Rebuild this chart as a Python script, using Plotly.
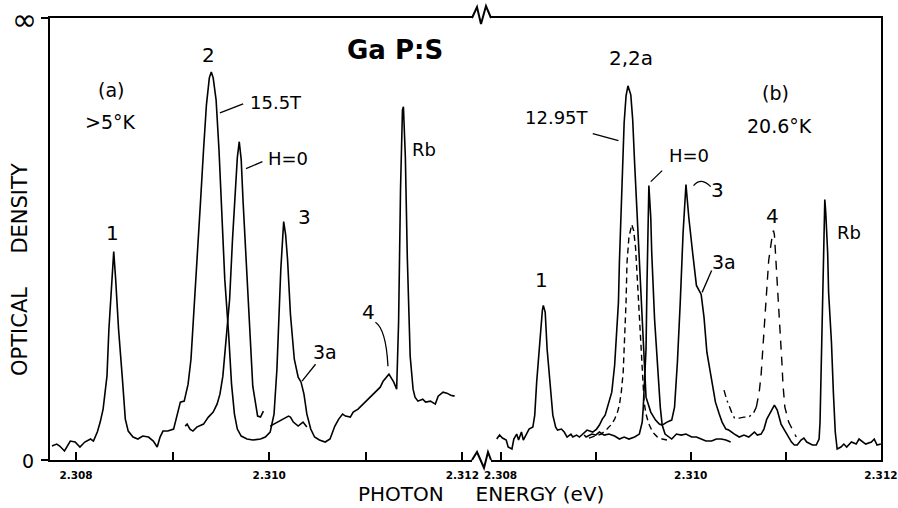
import plotly.graph_objects as go

# ---------------- data (photon energy in eV, optical density in arbitrary chart units) -------------
OD_TOP = 44.3  # the "infinity" end of the optical-density scale

# panel (a): 15.5 T trace
a_field_x = [2.30775, 2.30780, 2.30783, 2.30788, 2.30794, 2.30799, 2.30804, 2.30809, 2.30815, 2.30818,
             2.30822, 2.30825, 2.30828, 2.30832, 2.30834, 2.30837, 2.30839, 2.30841, 2.30844, 2.30848,
             2.30851, 2.30854, 2.30859, 2.30864, 2.30869, 2.30875, 2.30880, 2.30884, 2.30887, 2.30890,
             2.30895, 2.30901, 2.30905, 2.30908, 2.30912, 2.30916, 2.30919, 2.30922, 2.30925, 2.30929,
             2.30932, 2.30935, 2.30938, 2.30940, 2.30942, 2.30945, 2.30948, 2.30951, 2.30954, 2.30958,
             2.30961, 2.30964, 2.30967, 2.30971, 2.30977, 2.30983, 2.30991, 2.30996, 2.31001, 2.31005,
             2.31008, 2.31010, 2.31012, 2.31015, 2.31017, 2.31019, 2.31022, 2.31026, 2.31030, 2.31033,
             2.31036, 2.31039, 2.31043, 2.31047, 2.31052, 2.31058, 2.31063, 2.31068, 2.31072, 2.31076,
             2.31079, 2.31084, 2.31087, 2.31092, 2.31097, 2.31103, 2.31107, 2.31112, 2.31115, 2.31118,
             2.31122, 2.31124, 2.31129, 2.31132, 2.31134, 2.31136, 2.31138, 2.31139, 2.31141, 2.31143,
             2.31146, 2.31149, 2.31151, 2.31154, 2.31159, 2.31162, 2.31167, 2.31172, 2.31175, 2.31180,
             2.31184, 2.31188, 2.31192]
a_field_y = [1.4, 1.6, 1.4, 0.9, 1.9, 1.8, 1.3, 1.8, 2.1, 1.9,
             2.8, 3.8, 5.1, 8.4, 13.1, 18.1, 20.9, 18.1, 13.1, 8.1,
             4.1, 2.9, 2.3, 2.1, 2.4, 2.3, 1.9, 1.3, 2.3, 2.9,
             2.9, 3.1, 4.8, 5.8, 5.9, 7.6, 10.1, 14.6, 20.1, 26.1,
             31.1, 35.6, 38.3, 38.9, 38.3, 36.1, 31.1, 24.1, 18.1, 12.6,
             7.6, 4.6, 3.1, 2.4, 2.1, 2.0, 2.1, 2.3, 2.8, 4.6,
             9.1, 14.1, 19.1, 23.9, 22.6, 20.1, 14.6, 10.1, 8.3, 7.8,
             6.6, 4.6, 3.1, 2.3, 2.0, 1.8, 2.1, 3.4, 4.1, 4.6,
             4.4, 4.3, 4.8, 5.1, 5.6, 6.1, 6.6, 7.1, 7.3, 7.9,
             8.4, 8.6, 7.8, 7.1, 13.8, 27.1, 35.1, 35.4, 30.4, 20.4,
             10.4, 7.1, 6.3, 5.9, 6.1, 5.8, 5.9, 5.6, 6.4, 6.8,
             6.7, 6.5, 6.4]

# panel (a): zero-field (H=0) trace, two scan pieces
a_zero_x = [2.30913, 2.30915, 2.30918, 2.30921, 2.30925, 2.30932, 2.30937, 2.30942, 2.30946, 2.30949,
            2.30952, 2.30955, 2.30959, 2.30962, 2.30965, 2.30967, 2.30969, 2.30971, 2.30973, 2.30975,
            2.30978, 2.30981, 2.30983, 2.30986, 2.30988, 2.30991, 2.30994, None,
            2.31001, 2.31005, 2.31008, 2.31015, 2.31020, 2.31022, 2.31025, 2.31030, 2.31035, 2.31039]
a_zero_y = [3.4, 3.6, 3.1, 2.9, 3.3, 3.6, 4.3, 4.8, 5.6, 6.6,
            8.4, 11.4, 16.1, 22.1, 27.1, 30.3, 31.9, 30.1, 25.8, 22.1,
            15.8, 11.1, 7.4, 5.6, 4.4, 4.3, 4.9, None,
            3.4, 3.6, 3.8, 4.1, 4.4, 4.3, 3.8, 3.4, 3.8, 3.3]

# panel (b): 12.95 T trace
b_field_x = [2.30796, 2.30799, 2.30802, 2.30806, 2.30808, 2.30812, 2.30814, 2.30817, 2.30819, 2.30822,
             2.30824, 2.30827, 2.30830, 2.30834, 2.30836, 2.30838, 2.30841, 2.30844, 2.30845, 2.30847,
             2.30849, 2.30853, 2.30855, 2.30858, 2.30860, 2.30864, 2.30867, 2.30870, 2.30874, 2.30876,
             2.30880, 2.30883, 2.30886, 2.30891, 2.30897, 2.30901, 2.30904, 2.30907, 2.30910, 2.30912,
             2.30917, 2.30920, 2.30922, 2.30924, 2.30925, 2.30926, 2.30928, 2.30930, 2.30932, 2.30934,
             2.30937, 2.30939, 2.30941, 2.30943, 2.30946, 2.30949, 2.30951, 2.30953, 2.30958, 2.30963,
             2.30967, 2.30970, 2.30975, 2.30980, 2.30983, 2.30986, 2.30989, 2.30992, 2.30995, 2.30998,
             2.31002, 2.31006, 2.31011, 2.31014, 2.31017, 2.31023, 2.31026, 2.31030, 2.31033, 2.31037,
             2.31040, 2.31046, 2.31051, 2.31056, 2.31061, 2.31067, 2.31070, 2.31074, 2.31077, 2.31080,
             2.31085, 2.31088, 2.31091, 2.31095, 2.31098, 2.31101, 2.31106, 2.31109, 2.31112, 2.31116,
             2.31119, 2.31122, 2.31128, 2.31132, 2.31135, 2.31136, 2.31137, 2.31138, 2.31139, 2.31140,
             2.31141, 2.31142, 2.31144, 2.31145, 2.31148, 2.31150, 2.31152, 2.31154, 2.31158, 2.31161,
             2.31164, 2.31169, 2.31174, 2.31177, 2.31180, 2.31184, 2.31190, 2.31193, 2.31196, 2.31200]
b_field_y = [2.1, 2.5, 2.2, 2.0, 1.3, 1.1, 2.1, 2.6, 2.0, 2.8,
             2.0, 2.6, 3.1, 3.3, 4.5, 7.8, 11.8, 15.0, 15.5, 14.8,
             11.1, 6.8, 4.5, 3.3, 3.0, 3.1, 2.8, 2.3, 2.6, 2.3,
             2.5, 2.3, 2.6, 3.0, 2.8, 3.1, 3.5, 4.1, 4.5, 5.1,
             6.8, 9.5, 12.8, 15.8, 19.8, 22.5, 29.8, 33.8, 36.5, 37.5,
             36.6, 34.1, 29.8, 25.8, 19.8, 12.8, 8.8, 6.3, 4.8, 4.0,
             3.6, 3.5, 3.8, 4.0, 5.3, 9.8, 15.8, 22.8, 27.6, 24.3,
             20.8, 17.5, 16.6, 14.3, 10.8, 7.5, 5.8, 4.6, 3.8, 3.1,
             3.0, 2.6, 2.3, 2.5, 2.3, 2.8, 2.5, 2.6, 3.1, 4.1,
             5.0, 5.5, 5.0, 3.6, 3.1, 2.6, 1.8, 1.5, 1.5, 2.0,
             2.2, 1.8, 1.5, 1.5, 2.1, 3.8, 7.8, 12.8, 17.8, 22.3,
             26.1, 24.8, 20.8, 16.8, 11.8, 6.8, 2.8, 1.1, 1.3, 1.6,
             1.3, 1.8, 1.6, 2.1, 1.9, 1.6, 1.8, 2.1, 1.5, 1.6]

# panel (b): zero-field (H=0) trace
b_zero_x = [2.30888, 2.30890, 2.30896, 2.30900, 2.30904, 2.30909, 2.30914, 2.30920, 2.30925, 2.30930,
            2.30935, 2.30941, 2.30946, 2.30949, 2.30950, 2.30951, 2.30953, 2.30954, 2.30955, 2.30956,
            2.30958, 2.30959, 2.30962, 2.30965, 2.30968, 2.30970, 2.30973, 2.30980, 2.30985, 2.30990,
            2.30995, 2.31001, 2.31006, 2.31011, 2.31016, 2.31022, 2.31027, 2.31032, 2.31037, 2.31042]
b_zero_y = [2.5, 2.3, 2.6, 2.5, 2.8, 2.5, 2.6, 2.4, 2.1, 2.3,
            2.1, 2.3, 2.6, 3.8, 5.1, 6.8, 11.1, 17.5, 22.8, 27.5,
            24.3, 20.8, 14.1, 9.1, 5.3, 3.5, 2.6, 2.1, 2.6, 2.5,
            2.6, 2.3, 2.3, 2.1, 1.9, 1.9, 2.1, 2.1, 2.0, 1.8]

# panel (b): dashed trace around line 2,2a
b_dash_x = [2.30893, 2.30900, 2.30906, 2.30912, 2.30917, 2.30920, 2.30923, 2.30925, 2.30927, 2.30929,
            2.30930, 2.30932, 2.30933, 2.30935, 2.30938, 2.30940, 2.30942, 2.30944, 2.30946, 2.30948,
            2.30949, 2.30951, 2.30953, 2.30956, 2.30960, 2.30965, 2.30970, 2.30975]
b_dash_y = [2.2, 2.4, 2.6, 3.1, 3.6, 4.1, 4.8, 5.5, 6.8, 8.8,
            10.8, 15.8, 19.8, 22.3, 23.6, 23.0, 21.3, 17.8, 13.8, 9.8,
            8.1, 5.8, 4.6, 3.6, 2.8, 2.3, 2.1, 2.0]

# panel (b): dash-dot lead-in and dashed line 4
b_dashdot_x = [2.31035, 2.31038, 2.31043, 2.31046, 2.31051, 2.31056, 2.31061, 2.31066, 2.31069]
b_dashdot_y = [7.0, 6.0, 4.8, 4.2, 4.2, 4.3, 4.3, 4.7, 5.3]
b_line4_x = [2.31069, 2.31072, 2.31074, 2.31076, 2.31078, 2.31080, 2.31082, 2.31085, 2.31087, 2.31088,
             2.31090, 2.31092, 2.31094, 2.31096, 2.31097, 2.31099, 2.31103, 2.31107, 2.31111]
b_line4_y = [5.3, 6.8, 8.5, 11.3, 15.1, 17.8, 20.0, 22.0, 23.0, 22.6,
             19.6, 15.8, 12.8, 9.6, 7.6, 5.3, 3.8, 3.0, 2.3]

x_tickvals = [2.308, 2.309, 2.310, 2.311, 2.312]
x_ticktext = ["2.308", "", "2.310", "", "2.312"]

# ---------------- figure -------------
FONT = "DejaVu Sans"
INK = "black"
LW = 1.6

fig = go.Figure()

def add_line(x, y, xa, ya, dash="solid", width=LW):
    fig.add_trace(go.Scatter(x=x, y=y, mode="lines", xaxis=xa, yaxis=ya,
                             line=dict(color=INK, width=width, dash=dash),
                             connectgaps=False, showlegend=False, hoverinfo="skip"))

add_line(a_field_x, a_field_y, "x", "y")
add_line(a_zero_x, a_zero_y, "x", "y")
add_line(b_field_x, b_field_y, "x2", "y2")
add_line(b_zero_x, b_zero_y, "x2", "y2")
add_line(b_dash_x, b_dash_y, "x2", "y2", dash="6px,4px", width=1.4)
add_line(b_dashdot_x, b_dashdot_y, "x2", "y2", dash="7px,4px,2px,4px", width=1.4)
add_line(b_line4_x, b_line4_y, "x2", "y2", dash="9px,7px", width=1.4)

xaxis_common = dict(showline=True, linewidth=2, linecolor=INK, mirror=True,
                    ticks="inside", ticklen=8, tickwidth=1.5, tickcolor=INK,
                    tickvals=x_tickvals, ticktext=x_ticktext,
                    tickfont=dict(family=FONT, size=10.5, color=INK, weight="bold"),
                    showgrid=False, zeroline=False, ticklabelstandoff=4, automargin=False,
                    ticklabeloverflow="allow")

fig.update_layout(
    width=898, height=508, autosize=False,
    margin=dict(l=50, r=17, t=18, b=48, pad=0, autoexpand=False),
    paper_bgcolor="white", plot_bgcolor="white",
    xaxis=dict(domain=[0, 0.5078], range=[2.30773, 2.31210], anchor="y", **xaxis_common),
    xaxis2=dict(domain=[0.5307, 1.0], range=[2.30790, 2.312001], anchor="y2", **xaxis_common),
    yaxis=dict(domain=[0, 1], range=[0, OD_TOP], anchor="x", showline=True, linewidth=2,
               linecolor=INK, ticks="outside", ticklen=7, tickwidth=2, tickcolor=INK,
               tickvals=[0, OD_TOP], showticklabels=False, showgrid=False, zeroline=False,
               automargin=False),
    yaxis2=dict(domain=[0, 1], range=[0, OD_TOP], anchor="x2", side="right", matches="y",
                showline=True, linewidth=2, linecolor=INK, ticks="", showticklabels=False,
                showgrid=False, zeroline=False, automargin=False),
)

# axis break marks
fig.add_shape(type="path", xref="paper", yref="paper",
              path="M 0.50782,1 L 0.51384,1.02489 L 0.51865,0.98643 L 0.52467,1.02715 L 0.53069,1",
              line=dict(color=INK, width=2))
fig.add_shape(type="path", xref="paper", yref="paper",
              path="M 0.50782,0 L 0.51384,0.0181 L 0.52226,-0.0181 L 0.52708,0.0181 L 0.53069,0",
              line=dict(color=INK, width=2))

def label(text, x, y, xref, yref, size=19, bold=False, angle=0):
    fig.add_annotation(text=text, x=x, y=y, xref=xref, yref=yref, showarrow=False,
                       xanchor="center", yanchor="middle", textangle=angle,
                       font=dict(family=FONT, size=size, color=INK,
                                 weight="bold" if bold else "normal"))

# axis end labels and titles
label("\u221e", -0.0301, 0.9977, "paper", "paper", size=30)
label("0", -0.0265, -0.002, "paper", "paper", size=19)
label("OPTICAL\u00a0\u00a0\u00a0\u00a0\u00a0DENSITY", -0.0361, 0.43, "paper", "paper", size=21, angle=-90)
label("PHOTON\u00a0\u00a0\u00a0\u00a0\u00a0ENERGY (eV)", 0.5181, -0.0769, "paper", "paper", size=20)

# panel (a) labels
label("Ga P:S", 2.31130, 41.1, "x", "y", size=26, bold=True)
label("(a)", 2.30836, 37.1, "x", "y")
label(">5°K", 2.30836, 33.9, "x", "y")
label("1", 2.30838, 22.8, "x", "y", size=20)
label("2", 2.30937, 40.6, "x", "y", size=20)
label("15.5T", 2.31007, 35.8, "x", "y", size=18)
label("H=0", 2.31019, 30.2, "x", "y", size=18)
label("3", 2.31037, 24.4, "x", "y", size=20)
label("3a", 2.31058, 10.8, "x", "y")
label("4", 2.31103, 14.8, "x", "y", size=20)
label("Rb", 2.31160, 31.1, "x", "y", size=18)

# panel (b) labels
label("(b)", 2.31089, 36.8, "x2", "y2")
label("20.6°K", 2.31093, 33.5, "x2", "y2")
label("1", 2.30843, 18.0, "x2", "y2", size=20)
label("2,2a", 2.30937, 40.3, "x2", "y2", size=20)
label("12.95T", 2.30859, 34.3, "x2", "y2", size=18)
label("H=0", 2.30998, 30.5, "x2", "y2", size=18)
label("3", 2.31028, 27.1, "x2", "y2", size=20)
label("3a", 2.31035, 19.8, "x2", "y2")
label("4", 2.31086, 24.5, "x2", "y2", size=20)
label("Rb", 2.31166, 22.8, "x2", "y2", size=18)

# leader lines
def leader(x0, y0, x1, y1, xref):
    fig.add_shape(type="line", xref=xref, yref="y", x0=x0, y0=y0, x1=x1, y1=y1,
                  line=dict(color=INK, width=1.3))

leader(2.30949, 34.8, 2.30973, 35.7, "x")
leader(2.30976, 29.2, 2.30993, 29.9, "x")
leader(2.31034, 7.9, 2.31048, 9.6, "x")
fig.add_shape(type="path", xref="x", yref="y",
              path="M 2.31110,13.8 Q 2.31121,13.1 2.31123,9.4",
              line=dict(color=INK, width=1.3))
leader(2.30897, 32.7, 2.30924, 32.0, "x2")
leader(2.30970, 29.0, 2.30958, 27.9, "x2")
leader(2.31022, 19.0, 2.31012, 16.8, "x2")
fig.add_shape(type="path", xref="x2", yref="y",
              path="M 2.31003,27.5 Q 2.31011,28.4 2.31021,27.4",
              line=dict(color=INK, width=1.3))

fig.write_html("out.html", config={"displayModeBar": False},
               post_script="document.body.style.margin='0';document.body.style.overflow='hidden';")
